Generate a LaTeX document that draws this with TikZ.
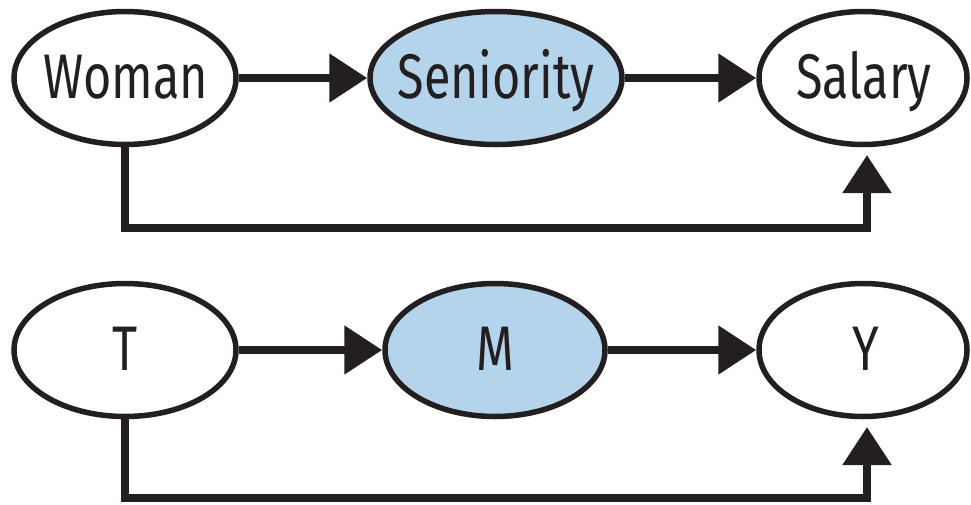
\documentclass[tikz,border=0pt]{standalone}
\usepackage{fontspec}
\setmainfont{Fira Sans}[FakeStretch=0.77]
\usetikzlibrary{arrows.meta,shapes.geometric,calc}
\definecolor{ink}{HTML}{231F20}
\definecolor{lblue}{HTML}{B3D4EA}
\newcommand{\lbl}[1]{\makebox[0pt]{\smash{#1}}}
\tikzset{
  var/.style={ellipse, draw=ink, line width=5.5pt, fill=white, inner sep=0pt,
    text=ink, font=\fontsize{63}{63}\selectfont},
  med/.style={var, fill=lblue},
  txt/.style={inner sep=0pt, text=ink, font=\fontsize{63}{63}\selectfont, anchor=base},
  arr/.style={draw=ink, line width=8.5pt, line join=miter,
    -{Triangle[length=38pt,width=47pt]}}
}
\begin{document}
\begin{tikzpicture}[x=1pt,y=-1pt]
\useasboundingbox (0,0) rectangle (971,504);
% top row
\node[var, minimum width=222pt, minimum height=133pt] (W) at (125,78) {};
\node[med, minimum width=252pt, minimum height=133pt] (S) at (496,78) {};
\node[var, minimum width=208pt, minimum height=133pt] (Sal) at (863,78) {};
\node[txt] (Wt) at (126,98) {Woman};
\node[txt] (St) at (496,98) {Seniority};
\node[txt] (Salt) at (864,98) {Salary};
\draw[arr] (W.east) -- (S.west);
\draw[arr] (S.east) -- (Sal.west);
\coordinate (c1) at (867,155);
\draw[arr] (W.south) -- (W.south |- 0,228) -| (c1);
% bottom row
\node[var, minimum width=222pt, minimum height=133pt] (T) at (125,350) {};
\node[med, minimum width=220pt, minimum height=133pt] (M) at (495,350) {};
\node[var, minimum width=208pt, minimum height=133pt] (Y) at (863,350) {};
\node[txt] (Tt) at (125,370) {T};
\node[txt] (Mt) at (495,370) {M};
\node[txt] (Yt) at (866,370) {Y};
\draw[arr] (T.east) -- (M.west);
\draw[arr] (M.east) -- (Y.west);
\coordinate (c2) at (867,427);
\draw[arr] (T.south) -- (T.south |- 0,498) -| (c2);
\end{tikzpicture}
\end{document}
